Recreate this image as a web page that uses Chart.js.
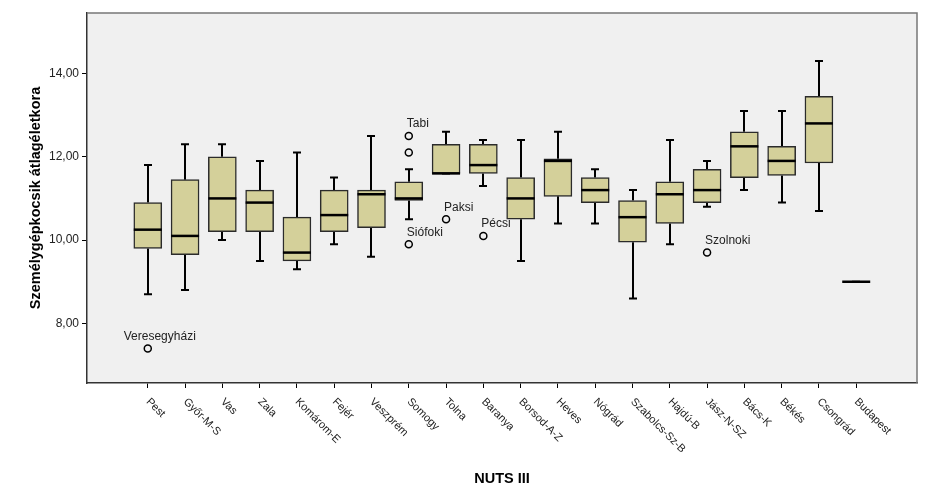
<!DOCTYPE html>
<html>
<head>
<meta charset="utf-8">
<script src="https://cdn.jsdelivr.net/npm/chart.js@4"></script>
<style>
  html, body { margin: 0; padding: 0; background: #fff; }
  #wrap { width: 936px; height: 501px; }
</style>
</head>
<body>
<div id="wrap"><canvas id="c" width="936" height="501"></canvas></div>
<script>
const categories = ["Pest", "Győr-M-S", "Vas", "Zala", "Komárom-E", "Fejér", "Veszprém", "Somogy", "Tolna", "Baranya",
  "Borsod-A-Z", "Heves", "Nógrád", "Szabolcs-Sz-B", "Hajdú-B", "Jász-N-SZ", "Bács-K", "Békés", "Csongrád", "Budapest"];

const whiskerLow  = [8.7, 8.8, 10.0, 9.5, 9.3, 9.9, 9.6, 10.5, 11.6, 11.3, 9.5, 10.4, 10.4, 8.6, 9.9, 10.8, 11.2, 10.9, 10.7, 9.0];
const q1          = [9.8, 9.65, 10.2, 10.2, 9.5, 10.2, 10.3, 10.95, 11.6, 11.6, 10.5, 11.05, 10.9, 9.95, 10.4, 10.9, 11.5, 11.55, 11.85, 9.0];
const median      = [10.25, 10.1, 11.0, 10.9, 9.7, 10.6, 11.1, 11.0, 11.6, 11.8, 11.0, 11.9, 11.2, 10.55, 11.1, 11.2, 12.25, 11.9, 12.8, 9.0];
const q3          = [10.9, 11.45, 12.0, 11.2, 10.55, 11.2, 11.2, 11.4, 12.3, 12.3, 11.5, 11.95, 11.5, 10.95, 11.4, 11.7, 12.6, 12.25, 13.45, 9.0];
const whiskerHigh = [11.8, 12.3, 12.3, 11.9, 12.1, 11.5, 12.5, 11.7, 12.6, 12.4, 12.4, 12.6, 11.7, 11.2, 12.4, 11.9, 13.1, 13.1, 14.3, 9.0];

// outliers: category index, value, case label
const outlierCat   = [0, 7, 7, 7, 8, 9, 15];
const outlierVal   = [7.4, 12.5, 12.1, 9.9, 10.5, 10.1, 9.7];
const outlierLabel = ["Veresegyházi", "Tabi", "", "Siófoki", "Paksi", "Pécsi", "Szolnoki"];

const yTicks = [8, 10, 12, 14];

const C = {
  plotBg: "#f0f0f0",
  box:    "#d4d09a",
  edge:   "#2b2b2b",
  frame:  "#777777",
  text:   "#222222",
};
const FONT = "'Liberation Sans', Arial, sans-serif";
const BOX_W = 28;
const CAP_W = 8;

const boxPlugin = {
  id: "boxParts",
  beforeDraw(chart) {
    const { ctx, chartArea: a } = chart;
    ctx.save();
    ctx.fillStyle = C.plotBg;
    ctx.fillRect(a.left, a.top, a.right - a.left, a.bottom - a.top);
    ctx.restore();
  },
  beforeDatasetsDraw(chart) {
    // whiskers (behind the boxes)
    const { ctx, scales: { x, y } } = chart;
    ctx.save();
    ctx.strokeStyle = "#000";
    ctx.lineWidth = 2;
    categories.forEach((_, i) => {
      const px = Math.round(x.getPixelForValue(i));
      const lo = y.getPixelForValue(whiskerLow[i]);
      const hi = y.getPixelForValue(whiskerHigh[i]);
      ctx.beginPath();
      ctx.moveTo(px, y.getPixelForValue(q3[i])); ctx.lineTo(px, hi);
      ctx.moveTo(px, y.getPixelForValue(q1[i])); ctx.lineTo(px, lo);
      ctx.moveTo(px - CAP_W / 2, hi); ctx.lineTo(px + CAP_W / 2, hi);
      ctx.moveTo(px - CAP_W / 2, lo); ctx.lineTo(px + CAP_W / 2, lo);
      ctx.stroke();
    });
    ctx.restore();
  },
  afterDatasetsDraw(chart) {
    const { ctx, scales: { x, y }, chartArea: a } = chart;
    ctx.save();
    // medians
    ctx.strokeStyle = "#000";
    ctx.lineWidth = 2.5;
    categories.forEach((_, i) => {
      const px = x.getPixelForValue(i);
      const py = y.getPixelForValue(median[i]);
      ctx.beginPath();
      ctx.moveTo(px - BOX_W / 2, py); ctx.lineTo(px + BOX_W / 2, py);
      ctx.stroke();
    });
    // outlier case labels
    ctx.fillStyle = C.text;
    ctx.font = "12px " + FONT;
    ctx.textAlign = "left";
    ctx.textBaseline = "middle";
    outlierCat.forEach((ci, k) => {
      if (!outlierLabel[k]) return;
      const px = x.getPixelForValue(ci);
      const py = y.getPixelForValue(outlierVal[k]);
      const w = ctx.measureText(outlierLabel[k]).width;
      const lx = w > 50 ? px - w / 3 : px - 2;
      ctx.fillText(outlierLabel[k], lx, py - 12);
    });
    // frame top/right
    ctx.strokeStyle = C.frame;
    ctx.lineWidth = 1.5;
    ctx.beginPath();
    ctx.moveTo(a.left, a.top); ctx.lineTo(a.right, a.top); ctx.lineTo(a.right, a.bottom);
    ctx.stroke();
    // rotated category labels
    ctx.fillStyle = C.text;
    ctx.font = "11px " + FONT;
    ctx.textAlign = "left";
    ctx.textBaseline = "middle";
    categories.forEach((name, i) => {
      const px = x.getPixelForValue(i);
      ctx.save();
      ctx.translate(px, a.bottom + 17);
      ctx.rotate(Math.PI / 4);
      ctx.fillText(name, 0, 0);
      ctx.restore();
    });
    ctx.restore();
  },
};

new Chart(document.getElementById("c"), {
  data: {
    datasets: [
      {
        type: "bar",
        label: "box",
        data: categories.map((_, i) => ({ x: i, y: [q1[i], q3[i]] })),
        backgroundColor: C.box,
        borderColor: C.edge,
        borderWidth: 1.5,
        borderSkipped: false,
        barThickness: BOX_W,
        order: 2,
      },
      {
        type: "scatter",
        label: "outliers",
        data: outlierCat.map((ci, k) => ({ x: ci, y: outlierVal[k] })),
        pointStyle: "circle",
        pointRadius: 3.5,
        pointBorderWidth: 1.5,
        pointBorderColor: "#000",
        pointBackgroundColor: C.plotBg,
        order: 1,
      },
    ],
  },
  options: {
    responsive: false,
    animation: false,
    events: [],
    layout: { padding: { top: 13, right: 19, left: 0, bottom: 0 } },
    plugins: { legend: { display: false }, tooltip: { enabled: false } },
    scales: {
      x: {
        type: "linear",
        offset: false,
        min: -1.63,
        max: categories.length - 1 + 1.63,
        afterBuildTicks: s => { s.ticks = categories.map((_, i) => ({ value: i })); },
        afterFit: s => { s.height = 118; },
        ticks: { display: false },
        grid: { offset: false, drawOnChartArea: false, drawTicks: true, tickLength: 5, color: "#000", lineWidth: 1 },
        border: { color: "#333", width: 1.5 },
        title: {
          display: true, text: "NUTS III", color: "#000",
          font: { family: FONT, size: 14.5, weight: "bold" },
          padding: { top: 0, bottom: 13 },
        },
      },
      y: {
        type: "linear",
        min: 6.57,
        max: 15.45,
        afterBuildTicks: s => { s.ticks = yTicks.map(v => ({ value: v })); },
        afterFit: s => { s.width = 87; },
        ticks: {
          color: C.text, padding: 3,
          font: { family: FONT, size: 12 },
          callback: v => v.toFixed(2).replace(".", ","),
        },
        grid: { drawOnChartArea: false, drawTicks: true, tickLength: 5, color: "#000", lineWidth: 1 },
        border: { color: "#333", width: 1.5 },
        title: {
          display: true, text: "Személygépkocsik átlagéletkora", color: "#000",
          font: { family: FONT, size: 14.5, weight: "bold" },
          padding: { top: 27, bottom: 0 },
        },
      },
    },
  },
  plugins: [boxPlugin],
});
</script>
</body>
</html>
